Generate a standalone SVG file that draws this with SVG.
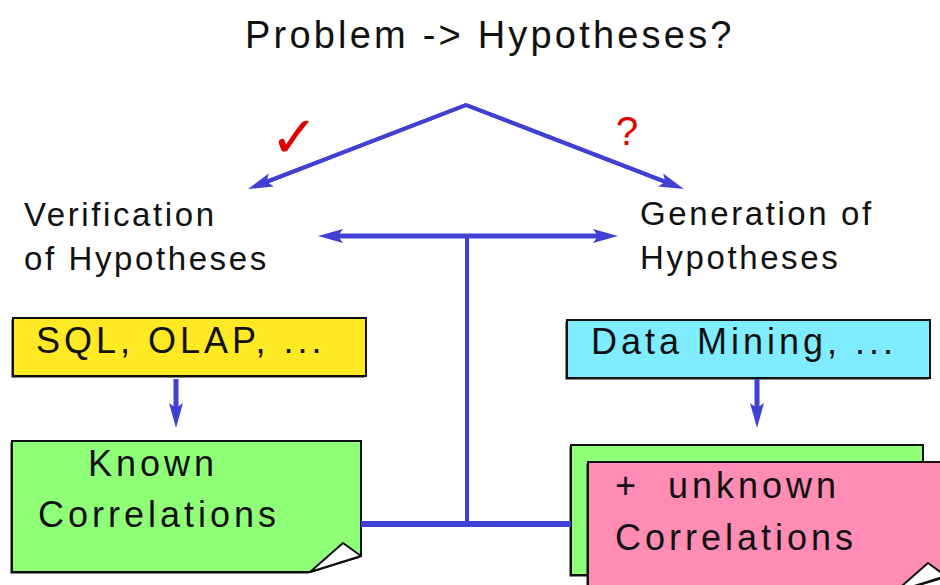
<svg xmlns="http://www.w3.org/2000/svg" width="940" height="585" viewBox="0 0 940 585">
  <defs>
    <style>
      text { font-family: "Liberation Sans", Arial, Helvetica, sans-serif; fill: #111; }
      .title { font-size: 38px; letter-spacing: 3.2px; }
      .label { font-size: 33px; letter-spacing: 2.6px; }
      .boxtext { font-size: 36px; letter-spacing: 4px; }
      .mark { fill: #e00000; }
      .conn { stroke: #4040d2; fill: none; }
      .box { stroke: #111; stroke-width: 2; }
      .flap { fill: #fff; stroke: #111; stroke-width: 2; stroke-linejoin: round; }
      .shadow { fill: #111; }
    </style>
    <marker id="head" markerUnits="userSpaceOnUse" markerWidth="26" markerHeight="16" refX="10" refY="8" orient="auto-start-reverse">
      <path d="M0,1 L25,8 L0,15 L5,8 Z" fill="#4040d2"/>
    </marker>
  </defs>

  <rect width="940" height="585" fill="#fff"/>

  <!-- heading -->
  <g id="title">
    <text class="title" x="245" y="48">Problem -&gt; Hypotheses?</text>
  </g>

  <!-- red annotations on the two branches -->
  <g id="check">
    <text class="mark" x="270" y="157" style="font-family:'DejaVu Sans',sans-serif;font-size:58px;">✓</text>
  </g>
  <g id="question">
    <text class="mark" x="616" y="145" style="font-size:40px;">?</text>
  </g>

  <g id="verification">
    <text class="label" x="24" y="226">Verification</text>
    <text class="label" x="24" y="270">of Hypotheses</text>
  </g>

  <g id="generation">
    <text class="label" x="640" y="225">Generation of</text>
    <text class="label" x="640" y="269">Hypotheses</text>
  </g>

  <g id="sql">
    <rect class="shadow" x="11.5" y="319.5" width="353" height="58"/>
    <rect class="box" x="13" y="318" width="353" height="58" fill="#ffe824"/>
    <text class="boxtext" x="36" y="353">SQL, OLAP, ...</text>
  </g>

  <g id="datamining">
    <rect class="shadow" x="565.5" y="321.5" width="363" height="58"/>
    <rect class="box" x="567" y="320" width="363" height="58" fill="#80ecff"/>
    <text class="boxtext" x="591" y="354">Data Mining, ...</text>
  </g>

  <g id="known">
    <path class="shadow" d="M10.5,442.5 H359 V558 L308,573.5 H10.5 Z"/>
    <path class="box" d="M12,441 H361 V556 L310,572 H12 Z" fill="#90ff78"/>
    <polygon class="flap" points="343,543 361,556 310,572"/>
    <text class="boxtext" x="88" y="476">Known</text>
    <text class="boxtext" x="38" y="527">Correlations</text>
  </g>

  <g id="unknown">
    <rect class="shadow" x="569.5" y="446.5" width="352" height="130"/>
    <rect class="box" x="571" y="445" width="352" height="130" fill="#90ff78"/>
    <path class="shadow" d="M586.5,463.5 H944 V578 L893,593.5 H586.5 Z"/>
    <path class="box" d="M588,462 H946 V577 L895,592 H588 Z" fill="#ff8cb4"/>
    <polygon class="flap" points="928,563 946,576 895,592"/>
    <text class="boxtext" x="615" y="498" xml:space="preserve">+  unknown</text>
    <text class="boxtext" x="615" y="550">Correlations</text>
  </g>

  <g id="connectors">
    <polyline class="conn" points="262,183.6 466,105 670,183.6" stroke-width="4" stroke-linejoin="round"/>
    <line class="conn" x1="466" y1="105" x2="262" y2="183.6" stroke-width="4" marker-end="url(#head)"/>
    <line class="conn" x1="466" y1="105" x2="670" y2="183.6" stroke-width="4" marker-end="url(#head)"/>
    <line class="conn" x1="333" y1="236" x2="603" y2="236" stroke-width="5" marker-start="url(#head)" marker-end="url(#head)"/>
    <line class="conn" x1="467" y1="236" x2="467" y2="524" stroke-width="4"/>
    <line class="conn" x1="361" y1="524" x2="571" y2="524" stroke-width="6"/>
    <line class="conn" x1="176" y1="379" x2="176" y2="413" stroke-width="5" marker-end="url(#head)"/>
    <line class="conn" x1="757" y1="379" x2="757" y2="413" stroke-width="5" marker-end="url(#head)"/>
  </g>
</svg>
